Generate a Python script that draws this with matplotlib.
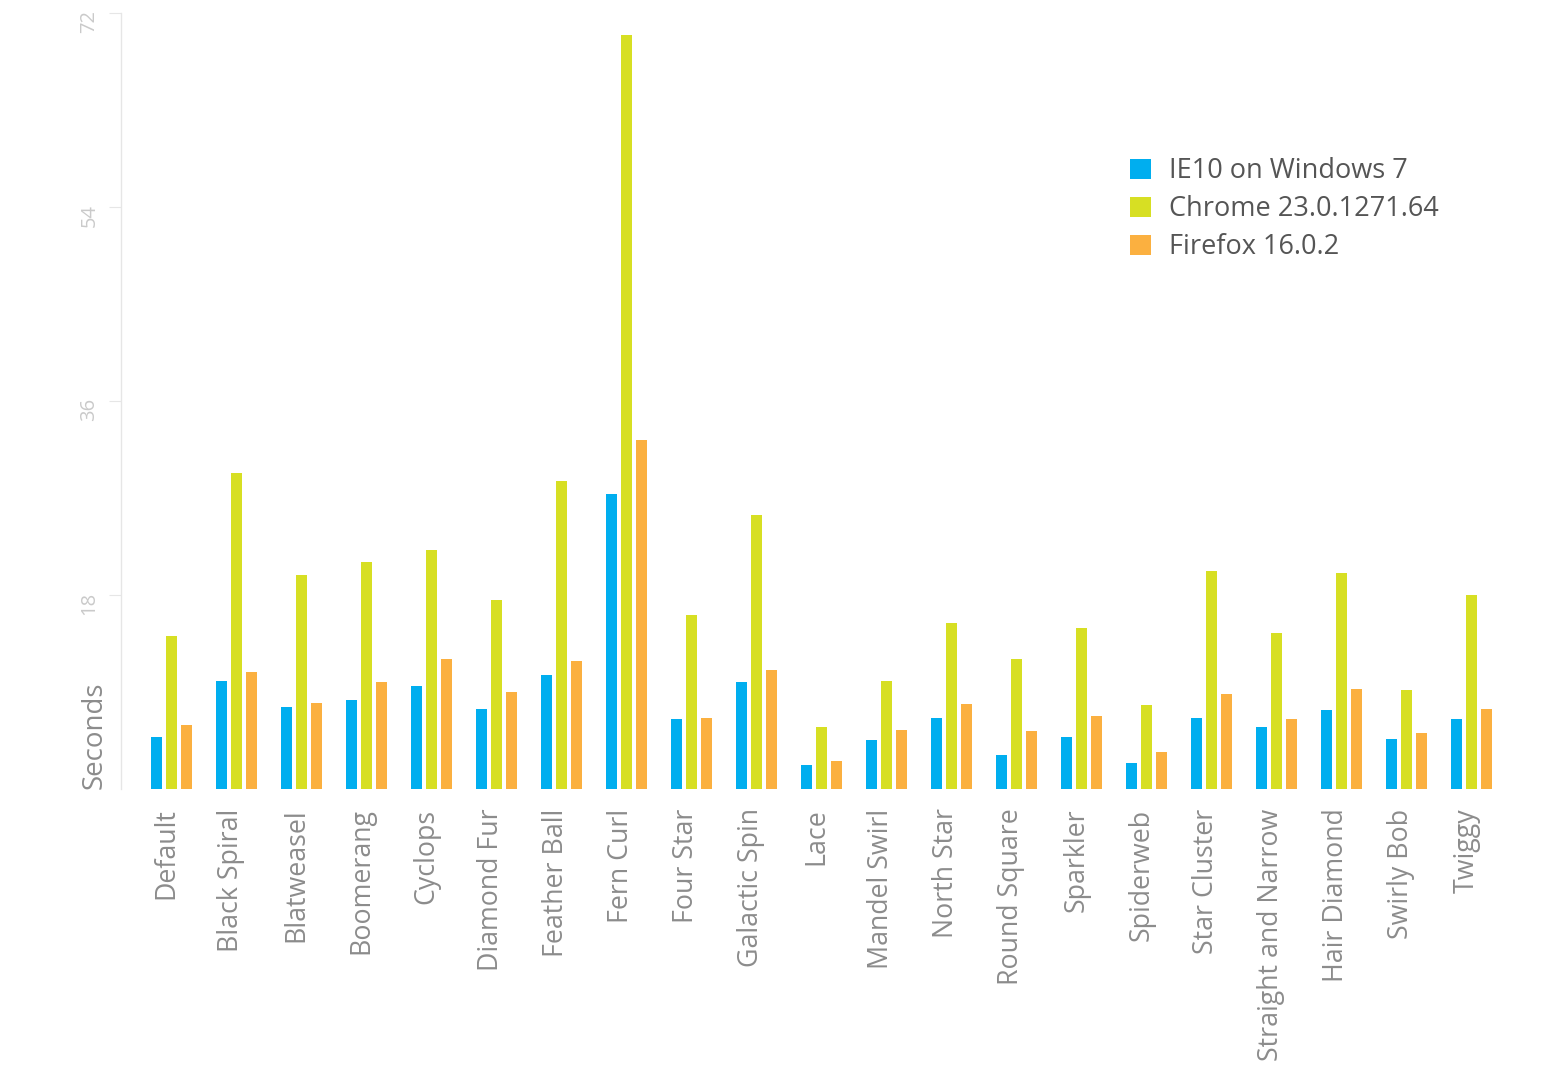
import matplotlib.pyplot as plt
import matplotlib.transforms as mtransforms
import numpy as np

plt.rcParams['font.family'] = ['Open Sans', 'DejaVu Sans']

# Dados (segundos)
patterns = ['Default', 'Black Spiral', 'Blatweasel', 'Boomerang', 'Cyclops',
            'Diamond Fur', 'Feather Ball', 'Fern Curl', 'Four Star',
            'Galactic Spin', 'Lace', 'Mandel Swirl', 'North Star',
            'Round Square', 'Sparkler', 'Spiderweb', 'Star Cluster',
            'Straight and Narrow', 'Hair Diamond', 'Swirly Bob', 'Twiggy']
ie10 = [4.8, 10.0, 7.6, 8.25, 9.55, 7.4, 10.6, 27.4, 6.5, 9.9, 2.2,
        4.55, 6.6, 3.15, 4.8, 2.4, 6.6, 5.75, 7.3, 4.65, 6.5]
chrome = [14.2, 29.3, 19.85, 21.05, 22.2, 17.5, 28.6, 70.0, 16.15, 25.4, 5.75,
          10.0, 15.4, 12.05, 14.95, 7.8, 20.2, 14.5, 20.0, 9.2, 18.0]
firefox = [5.9, 10.85, 8.0, 9.9, 12.05, 9.0, 11.9, 32.4, 6.6, 11.0, 2.6,
           5.5, 7.9, 5.4, 6.8, 3.4, 8.8, 6.5, 9.3, 5.2, 7.4]
series_names = ['IE10 on Windows 7', 'Chrome 23.0.1271.64', 'Firefox 16.0.2']
colors = ['#00AEEF', '#D7DF23', '#FBB040']
yticks = [18, 36, 54, 72]

fig = plt.figure(figsize=(15.64, 10.8), dpi=100)
ax = fig.add_axes([121 / 1564, 1 - 789 / 1080, (1520 - 121) / 1564, (789 - 13) / 1080])

x = np.arange(len(patterns))
w = 0.169
step = 0.231
for i, (vals, name, c) in enumerate(zip([ie10, chrome, firefox], series_names, colors)):
    ax.bar(x + (i - 1) * step, vals, width=w, color=c, label=name, zorder=2)

ax.set_xlim(-0.777, 20.75)
ax.set_ylim(0, 72)

# Eixos
for s in ['top', 'right', 'bottom']:
    ax.spines[s].set_visible(False)
ax.spines['left'].set_color('#e6e6e6')
ax.spines['left'].set_linewidth(1)

ax.set_yticks(yticks)
ax.set_yticklabels([str(t) for t in yticks], rotation=90, va='top',
                   color='#cacaca', fontsize=14.5)
ax.tick_params(axis='y', length=8.6, color='#e6e6e6', pad=7)
off_y = mtransforms.ScaledTranslation(0, 3 / 100, fig.dpi_scale_trans)
for lab in ax.get_yticklabels():
    lab.set_transform(lab.get_transform() + off_y)

ax.set_xticks(x)
ax.set_xticklabels(patterns, rotation=90, va='top', ha='center',
                   color='#8c8c8c', fontsize=19.3)
ax.tick_params(axis='x', length=0, pad=14)
off_x = mtransforms.ScaledTranslation(-5 / 100, 0, fig.dpi_scale_trans)
for lab in ax.get_xticklabels():
    lab.set_transform(lab.get_transform() + off_x)

ax.set_ylabel('Seconds', color='#8c8c8c', fontsize=20, loc='bottom')
ax.yaxis.set_label_coords(-0.0086, 0)

leg = ax.legend(loc='upper left', bbox_to_anchor=(1106 / 1564, 1 - 133 / 1080),
                bbox_transform=fig.transFigure, frameon=False, fontsize=19.5,
                handlelength=0.75, handleheight=0.75, handletextpad=0.67,
                labelspacing=0.37)
for t in leg.get_texts():
    t.set_color('#555555')

plt.savefig('out.png', dpi=100)
